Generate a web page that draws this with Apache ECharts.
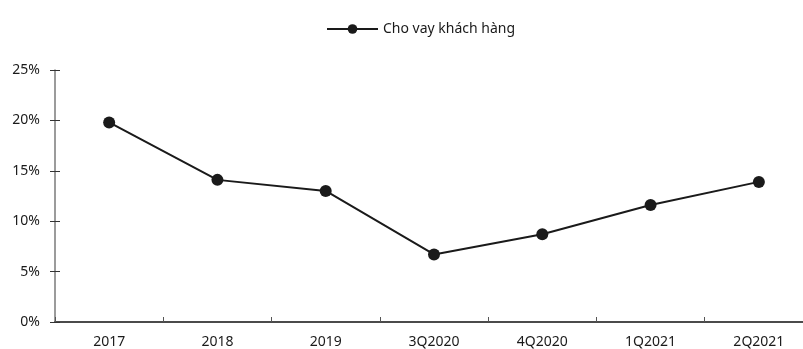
<!DOCTYPE html>
<html>
<head>
<meta charset="utf-8">
<script src="https://cdn.jsdelivr.net/npm/echarts@6/dist/echarts.min.js"></script>
<style>
  html, body { margin: 0; padding: 0; background: #fff; }
  #chart { width: 803px; height: 349px; }
</style>
</head>
<body>
<div id="chart"></div>
<script>
// Loan growth by period (%)
const categories = ['2017', '2018', '2019', '3Q2020', '4Q2020', '1Q2021', '2Q2021'];
const loanGrowth = [19.8, 14.1, 13.0, 6.7, 8.7, 11.6, 13.9];
const seriesName = 'Cho vay khách hàng';

const FONT = '"Noto Sans", sans-serif';
const chart = echarts.init(document.getElementById('chart'));

chart.setOption({
  animation: false,
  textStyle: { fontFamily: FONT },
  legend: {
    top: 17,
    left: 321,
    itemWidth: 51,
    itemHeight: 12,
    itemGap: 6,
    textStyle: { fontFamily: FONT, fontSize: 14, color: '#1a1a1a' },
    data: [seriesName]
  },
  grid: {
    left: 55, width: 758, top: 70, bottom: 27,
    containLabel: false,
    outerBoundsMode: 'none'
  },
  xAxis: {
    type: 'category',
    data: categories,
    boundaryGap: true,
    axisLine: { lineStyle: { color: '#111', width: 1.5 } },
    axisTick: { show: true, inside: true, length: 5, lineStyle: { color: '#555' } },
    axisLabel: { fontFamily: FONT, fontSize: 14, color: '#1a1a1a', margin: 13 }
  },
  yAxis: [
    {
      type: 'value',
      min: 0, max: 25, interval: 5,
      axisLine: { show: true, lineStyle: { color: '#7a7a7a', width: 1.5 } },
      axisTick: { show: true, length: 5, lineStyle: { color: '#333' } },
      axisLabel: { fontFamily: FONT, fontSize: 14, color: '#1a1a1a', margin: 15, formatter: '{value}%' },
      splitLine: { show: false }
    },
    {
      // inner half of the cross-shaped tick marks
      type: 'value',
      position: 'left',
      min: 0, max: 25, interval: 5,
      axisLine: { show: false },
      axisTick: { show: true, inside: true, length: 5, lineStyle: { color: '#333' } },
      axisLabel: { show: false },
      splitLine: { show: false }
    }
  ],
  series: [
    {
      name: seriesName,
      type: 'line',
      data: loanGrowth,
      symbol: 'circle',
      symbolSize: 12,
      itemStyle: { color: '#1a1a1a' },
      lineStyle: { color: '#1a1a1a', width: 2 }
    }
  ]
});
</script>
</body>
</html>
